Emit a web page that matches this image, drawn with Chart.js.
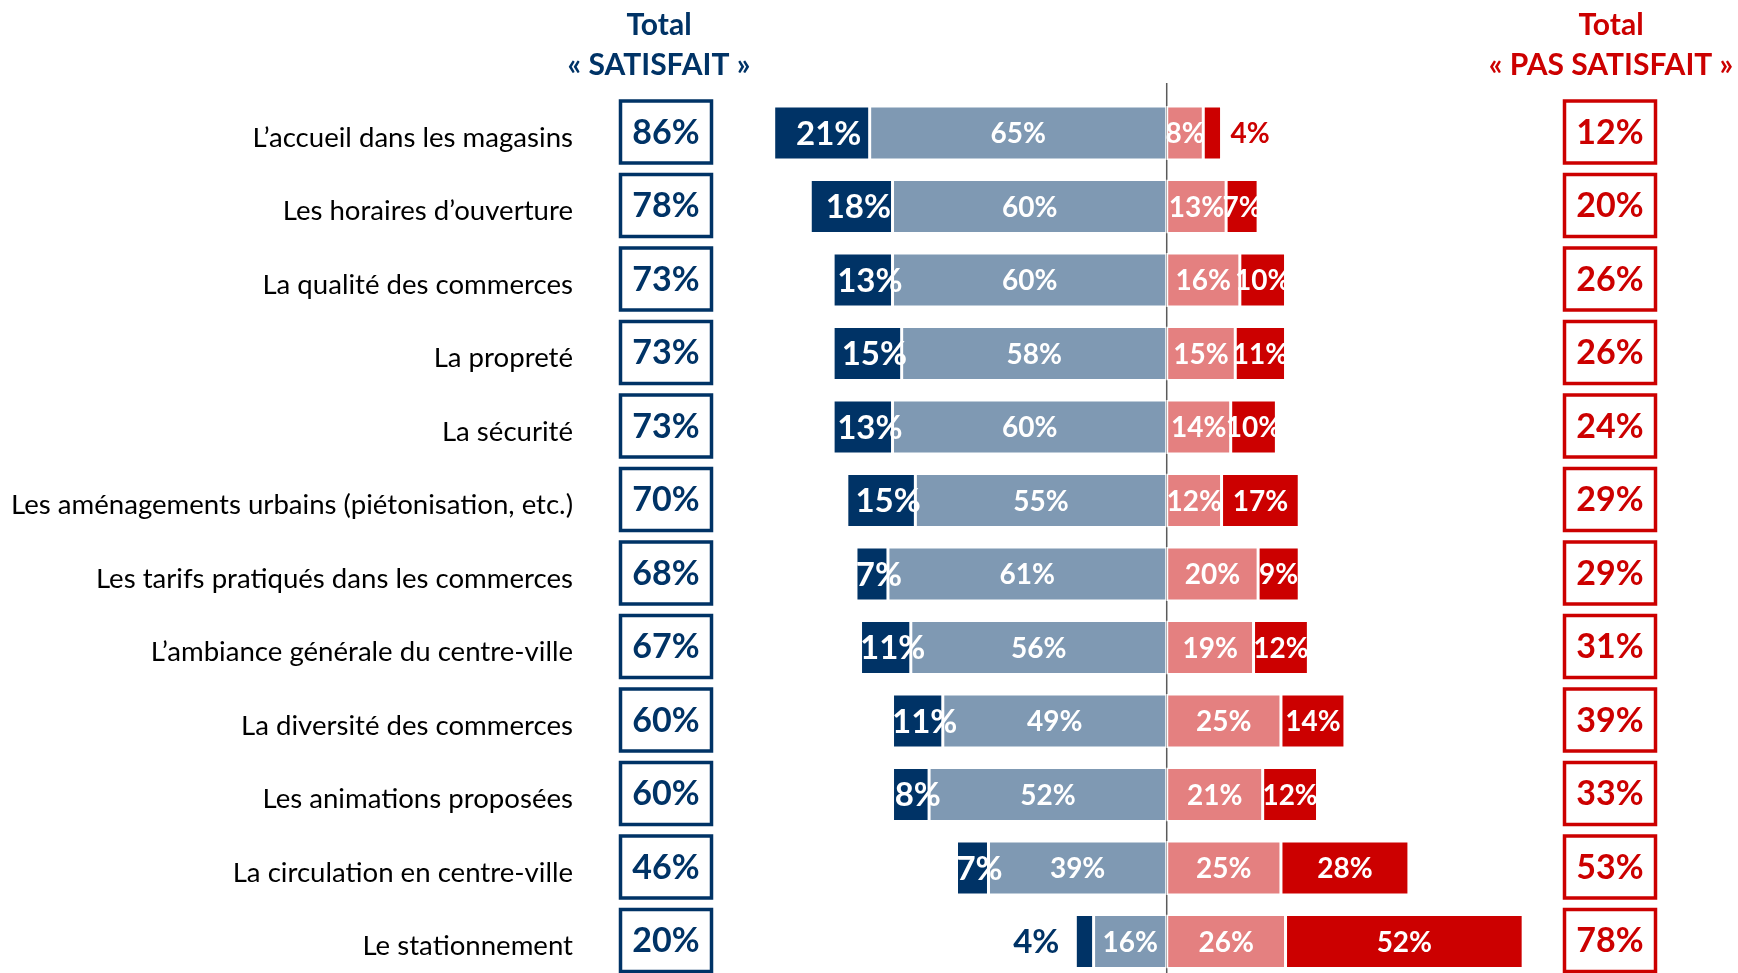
<!DOCTYPE html>
<html><head><meta charset="utf-8">
<script src="https://cdn.jsdelivr.net/npm/chart.js@4/dist/chart.umd.min.js"></script>
<style>
html,body{margin:0;padding:0;overflow:hidden;background:#fff;}
#wrap{position:relative;width:1738px;height:990px;}
</style></head><body>
<div id="wrap"><canvas id="c" width="1738" height="990"></canvas></div>
<script>
const categories = [
  "L’accueil dans les magasins",
  "Les horaires d’ouverture",
  "La qualité des commerces",
  "La propreté",
  "La sécurité",
  "Les aménagements urbains (piétonisation, etc.)",
  "Les tarifs pratiqués dans les commerces",
  "L’ambiance générale du centre-ville",
  "La diversité des commerces",
  "Les animations proposées",
  "La circulation en centre-ville",
  "Le stationnement"
];
const tresSatisfait      = [21,18,13,15,13,15,7,11,11,8,7,4];
const plutotSatisfait    = [65,60,60,58,60,55,61,56,49,52,39,16];
const plutotPasSatisfait = [8,13,16,15,14,12,20,19,25,21,25,26];
const pasDuToutSatisfait = [4,7,10,11,10,17,9,12,14,12,28,52];
const totalSatisfait     = [86,78,73,73,73,70,68,67,60,60,46,20];
const totalPasSatisfait  = [12,20,26,26,24,29,29,31,39,33,53,78];
const headerLeft  = ["Total", "« SATISFAIT »"];
const headerRight = ["Total", "« PAS SATISFAIT »"];

const NAVY = '#003366', LIGHT = '#7F99B3', PINK = '#E48080', RED = '#CC0000';
const FONT = 'Lato';

const overlay = {
  id: 'overlay',
  beforeDatasetsDraw(chart) {
    const ctx = chart.ctx, xs = chart.scales.x;
    const x0 = xs.getPixelForValue(0);
    ctx.save();
    ctx.strokeStyle = '#5a5a5a'; ctx.lineWidth = 1.5;
    ctx.beginPath(); ctx.moveTo(x0, 83); ctx.lineTo(x0, chart.height); ctx.stroke();
    ctx.restore();
  },
  afterDatasetsDraw(chart) {
    const ctx = chart.ctx, ys = chart.scales.y;
    ctx.save();
    // headers
    ctx.textAlign = 'center'; ctx.textBaseline = 'alphabetic';
    ctx.font = `bold 30px ${FONT}`;
    ctx.fillStyle = NAVY;
    ctx.fillText(headerLeft[0], 659, 35);
    ctx.fillText(headerLeft[1], 659, 75);
    ctx.fillStyle = RED;
    ctx.fillText(headerRight[0], 1611, 35);
    ctx.fillText(headerRight[1], 1611, 75);

    // segment labels
    ctx.textBaseline = 'middle';
    chart.data.datasets.forEach((ds, di) => {
      const meta = chart.getDatasetMeta(di);
      meta.data.forEach((bar, i) => {
        const v = Math.abs(ds.data[i]);
        const txt = v + '%';
        const l = Math.min(bar.x, bar.base), r = Math.max(bar.x, bar.base);
        const y = bar.y + 1;
        const big = ds.key === 'dark';
        ctx.font = `bold ${big ? 33 : 28}px ${FONT}`;
        if (v <= 4) {
          if (bar.x < bar.base) {
            ctx.textAlign = 'right'; ctx.fillStyle = NAVY;
            ctx.fillText(txt, l - 16, y);
          } else {
            ctx.textAlign = 'left'; ctx.fillStyle = RED;
            ctx.fillText(txt, r + 9, y);
          }
        } else {
          ctx.textAlign = 'center'; ctx.fillStyle = '#ffffff';
          ctx.fillText(txt, (l + r) / 2 + (big ? 7 : 0), y);
        }
      });
    });

    // total boxes
    ctx.font = `bold 34px ${FONT}`;
    ctx.textAlign = 'center';
    ctx.lineWidth = 3.5;
    categories.forEach((c, i) => {
      const yc = ys.getPixelForValue(i) - 1;
      const h = 62;
      ctx.strokeStyle = NAVY; ctx.fillStyle = NAVY;
      ctx.strokeRect(620.5, yc - h / 2, 91, h);
      ctx.fillText(totalSatisfait[i] + '%', 666, yc + 1);
      ctx.strokeStyle = RED; ctx.fillStyle = RED;
      ctx.strokeRect(1564.5, yc - h / 2, 91, h);
      ctx.fillText(totalPasSatisfait[i] + '%', 1610, yc + 1);
    });
    ctx.restore();
  }
};

function draw() {
  const common = { borderColor: '#ffffff', borderWidth: 1.5, borderSkipped: false,
                   barPercentage: 0.735, categoryPercentage: 1 };
  new Chart(document.getElementById('c'), {
    type: 'bar',
    data: {
      labels: categories,
      datasets: [
        Object.assign({ key: 'light', label: 'Plutôt satisfait', data: plutotSatisfait.map(v => -v), backgroundColor: LIGHT }, common),
        Object.assign({ key: 'dark', label: 'Très satisfait', data: tresSatisfait.map(v => -v), backgroundColor: NAVY }, common),
        Object.assign({ key: 'pink', label: 'Plutôt pas satisfait', data: plutotPasSatisfait, backgroundColor: PINK }, common),
        Object.assign({ key: 'red', label: 'Pas du tout satisfait', data: pasDuToutSatisfait, backgroundColor: RED }, common)
      ]
    },
    options: {
      responsive: false,
      animation: false,
      indexAxis: 'y',
      layout: { padding: { top: 96.25, right: 205.7, bottom: 11.75, left: 0 } },
      plugins: { legend: { display: false }, tooltip: { enabled: false } },
      scales: {
        x: { stacked: true, min: -89, max: 80, display: false },
        y: {
          stacked: true,
          grid: { display: false, drawTicks: false },
          border: { display: false },
          ticks: { autoSkip: false, padding: 187, labelOffset: 5, color: '#000000',
                   font: { family: FONT, size: 27.6 } },
          afterFit(s) { s.width = 760; s.paddingTop = 0; s.paddingBottom = 0; }
        }
      }
    },
    plugins: [overlay]
  });
}
if (document.fonts && document.fonts.load) {
  Promise.all([document.fonts.load(`27px ${FONT}`), document.fonts.load(`bold 30px ${FONT}`)]).then(draw, draw);
} else { draw(); }
</script>
</body></html>
